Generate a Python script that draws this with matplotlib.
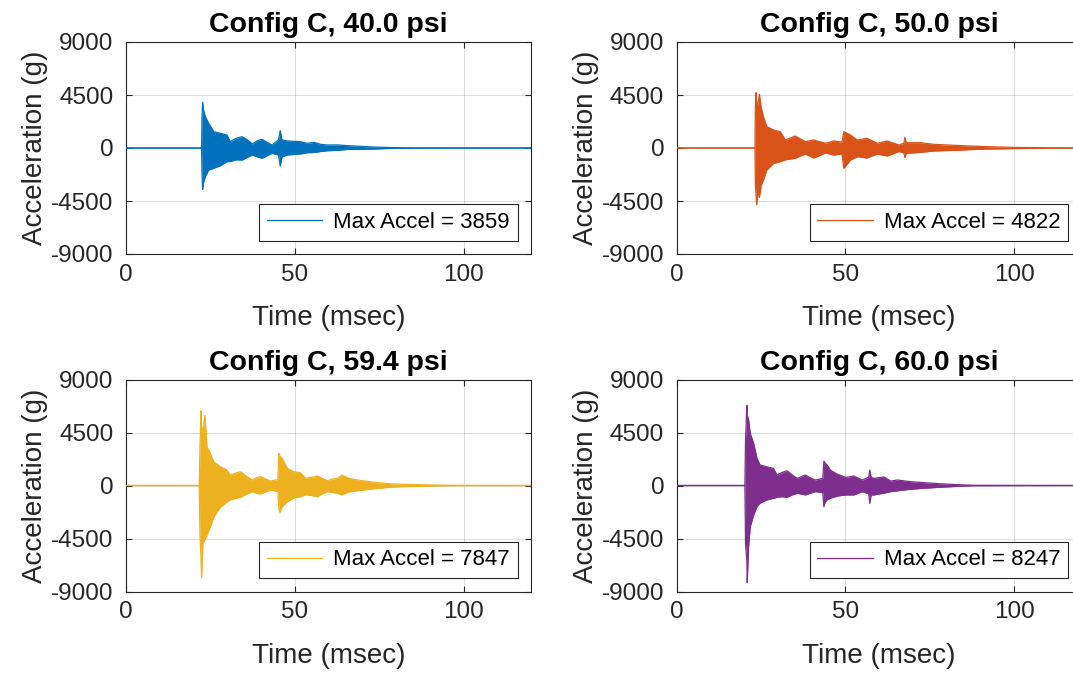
import matplotlib
matplotlib.use("Agg")
import matplotlib.pyplot as plt

plt.rcParams['font.family'] = ['Liberation Sans', 'DejaVu Sans']
plt.rcParams['axes.unicode_minus'] = False

# ---------------- data (envelopes) ----------------
titles = ["Config C, 40.0 psi", "Config C, 50.0 psi",
          "Config C, 59.4 psi", "Config C, 60.0 psi"]
max_accel = [3859, 4822, 7847, 8247]
colors = ["#0072BD", "#D95319", "#EDB120", "#7E2F8E"]

t1 = [0, 22.4, 22.5, 22.7, 22.9, 23.5, 24.5, 26.0, 28.0, 29.9,
      30.9, 32.6, 34.4, 35.9, 37.4, 38.9, 40.3, 41.8, 43.3, 45.2,
      45.7, 46.2, 47.8, 49.7, 51.7, 53.7, 55.7, 57.7, 59.7, 62.6,
      65.6, 69.5, 73.5, 79.5, 85, 120]
u1 = [0, 0, 2500, 3859, 3300, 2660, 2095, 1385, 1245, 1100,
      540, 820, 960, 700, 340, 620, 740, 480, 255, 700,
      1470, 700, 600, 560, 540, 400, 480, 310, 255, 260,
      200, 140, 80, 30, 10, 0]
l1 = [0, 0, -2000, -3510, -3000, -2430, -1870, -1720, -1500, -1160,
      -1150, -1000, -1020, -800, -595, -750, -875, -650, -450, -600,
      -1530, -750, -595, -550, -500, -400, -380, -300, -230, -200,
      -120, -120, -80, -30, -10, 0]

t2 = [0, 23.2, 23.3, 23.5, 23.7, 24.0, 24.5, 25.0, 25.7, 26.7,
      28.7, 30.7, 32.2, 35.1, 38.1, 40.6, 44.1, 46.5, 49.0, 49.5,
      51.5, 53.5, 56.4, 59.4, 62.4, 65.8, 67.3, 67.6, 68.0, 70.0,
      72.3, 76.2, 82.2, 90.1, 100, 110, 120]
u2 = [0, 0, 3500, 4700, 3800, 3600, 4550, 3500, 2660, 1810,
      1530, 1385, 680, 1020, 540, 680, 400, 600, 500, 1385,
      1100, 680, 820, 400, 595, 255, 400, 900, 450, 450,
      450, 310, 230, 130, 50, 20, 0]
l2 = [0, 0, -3000, -4000, -4822, -3800, -4200, -3200, -2720, -1870,
      -1300, -1160, -1000, -875, -510, -850, -420, -600, -500, -1725,
      -1020, -740, -850, -510, -680, -300, -400, -820, -450, -420,
      -365, -255, -200, -100, -50, -20, 0]

t3 = [0, 21.7, 21.9, 22.2, 22.4, 22.8, 23.4, 24.0, 25.0, 26.0,
      27.0, 28.0, 29.9, 30.9, 32.4, 33.9, 35.6, 37.4, 38.6, 39.8,
      41.3, 42.8, 45.0, 45.3, 45.6, 46.3, 47.8, 49.7, 51.7, 53.2,
      55.0, 56.7, 58.2, 59.7, 61.2, 62.7, 64.0, 66.0, 68.6, 74.5,
      78.5, 82.5, 92.4, 97, 120]
u3 = [0, 0, 3000, 6330, 5000, 4500, 5960, 3280, 2720, 2010,
      1800, 1590, 1310, 890, 1050, 1170, 800, 465, 650, 745,
      550, 380, 500, 2720, 2500, 2300, 1455, 1170, 1080, 610,
      700, 800, 600, 410, 550, 610, 890, 600, 465, 240,
      140, 100, 30, 10, 0]
l3 = [0, 0, -4000, -6000, -7847, -4890, -4610, -4200, -3500, -2700,
      -2215, -1850, -1400, -1225, -1100, -1000, -750, -525, -650, -720,
      -550, -380, -500, -2000, -2300, -1800, -1370, -1070, -950, -790,
      -850, -950, -700, -520, -600, -660, -790, -550, -440, -250,
      -140, -100, -30, -10, 0]

t4 = [0, 20.2, 20.4, 20.8, 20.9, 21.3, 21.8, 22.8, 23.8, 24.7,
      26.7, 28.7, 29.7, 31.2, 32.7, 34.2, 35.7, 36.9, 38.1, 39.6,
      41.1, 43.3, 43.6, 44.0, 44.6, 45.5, 47.5, 50.0, 52.5, 55.0,
      56.9, 57.2, 57.6, 58.4, 61.4, 63.4, 65.4, 69.3, 73.3, 78,
      84, 88, 120]
u4 = [0, 0, 4000, 6810, 6000, 5540, 4415, 3570, 2300, 1735,
      1590, 1450, 890, 1100, 1250, 900, 610, 750, 890, 650,
      465, 600, 2070, 1900, 1735, 1310, 975, 690, 800, 465,
      700, 1310, 700, 610, 720, 380, 465, 325, 240, 150,
      60, 20, 0]
l4 = [0, 0, -5000, -6500, -8247, -5180, -3485, -2500, -1790, -1500,
      -1225, -1085, -1000, -950, -1000, -800, -660, -720, -800, -650,
      -520, -600, -1790, -1400, -1200, -1085, -900, -800, -800, -520,
      -700, -1510, -800, -800, -650, -520, -450, -320, -230, -150,
      -60, -20, 0]

times = [t1, t2, t3, t4]
uppers = [u1, u2, u3, u4]
lowers = [l1, l2, l3, l4]

xticks = [0, 50, 100]
yticks = [-9000, -4500, 0, 4500, 9000]

# ---------------- figure ----------------
W, H = 1073, 673
fig = plt.figure(figsize=(W / 100, H / 100), dpi=100)
fig.patch.set_facecolor('white')

ax_w = 405 / W
ax_h = 212 / H
lefts = [126 / W, 676.7 / W]
bottoms = [(H - 254) / H, (H - 591.5) / H]

dark = '#262626'
for i in range(4):
    r, c = divmod(i, 2)
    ax = fig.add_axes([lefts[c], bottoms[r], ax_w, ax_h])
    col = colors[i]
    ax.fill_between(times[i], lowers[i], uppers[i], color=col, lw=0, zorder=2)
    ax.plot(times[i], uppers[i], color=col, lw=0.9, zorder=3,
            label=f"Max Accel = {max_accel[i]}")
    ax.plot(times[i], lowers[i], color=col, lw=0.9, zorder=3)
    ax.set_xlim(0, 120)
    ax.set_ylim(-9000, 9000)
    ax.set_xticks(xticks)
    ax.set_yticks(yticks)
    ax.grid(True, color=dark, alpha=0.15, lw=0.8)
    ax.set_axisbelow(True)
    for s in ax.spines.values():
        s.set_color(dark)
        s.set_linewidth(0.8)
    ax.tick_params(direction='in', length=4, width=0.8, color=dark,
                   labelcolor=dark, labelsize=17.5, top=True, right=True)
    ax.tick_params(axis='x', pad=7)
    ax.tick_params(axis='y', pad=9)
    ax.set_title(titles[i], fontsize=20.5, fontweight='bold', pad=7)
    ax.set_xlabel("Time (msec)", fontsize=20, color=dark, labelpad=14)
    ax.set_ylabel("Acceleration (g)", fontsize=20, color=dark, labelpad=2)
    leg = ax.legend(loc='lower right', fontsize=16, fancybox=False,
                    framealpha=1, edgecolor=dark, borderpad=0.35,
                    handlelength=2.5, handletextpad=0.5, borderaxespad=0.6)
    leg.get_frame().set_linewidth(0.8)
    for txt in leg.get_texts():
        txt.set_color('black')

fig.savefig("out.png", dpi=100)
